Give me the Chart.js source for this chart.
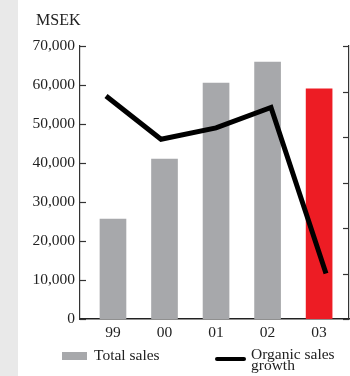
<!DOCTYPE html>
<html>
<head>
<meta charset="utf-8">
<title>Total sales and organic sales growth</title>
<script src="https://cdn.jsdelivr.net/npm/chart.js@4/dist/chart.umd.min.js"></script>
<style>
  html, body { margin: 0; padding: 0; }
  body { width: 350px; height: 376px; position: relative; background: #fff; overflow: hidden;
         font-family: "Liberation Serif", "Times New Roman", serif; color: #222; }
  .strip { position: absolute; left: 0; top: 0; width: 18px; height: 376px; background: #e9e9e9; }
  .plot { position: absolute; left: 18px; top: 0; width: 332px; height: 376px; }
  .unit { position: absolute; left: 36px; top: 14px; font-size: 16px; line-height: 11px; }
  .legend span { position: absolute; font-size: 15.5px; line-height: 11px; white-space: nowrap; }
  .swatch-bar { position: absolute; left: 62px; top: 352px; width: 25px; height: 8px; background: #a7a8ab; }
  .swatch-line { position: absolute; left: 215px; top: 357px; width: 31px; height: 4px; border-radius: 2px; background: #000; }
</style>
</head>
<body>
<div class="strip"></div>
<div class="plot"><canvas id="chart"></canvas></div>
<div class="unit">MSEK</div>
<div class="legend">
  <div class="swatch-bar"></div>
  <span style="left:94px; top:349px;">Total sales</span>
  <div class="swatch-line"></div>
  <span style="left:251px; top:348px;">Organic sales<br>growth</span>
</div>
<script>
// sales per year, MSEK, and organic growth in percent
const years = ["99", "00", "01", "02", "03"];
const totalSales = [25600, 41000, 60500, 65900, 59000];
const organicGrowth = [9.8, 7.9, 8.4, 9.3, 2.0];
const salesTicks = [0, 10000, 20000, 30000, 40000, 50000, 60000, 70000];

const GREY = "#a7a8ab";
const RED = "#ed1c24";
const INK = "#222";
const tickFont = { family: "'Liberation Serif', 'Times New Roman', serif", size: 15.5 };

// short tick marks pointing into the plot on both value axes
const inwardTicks = {
  id: "inwardTicks",
  afterDraw(chart) {
    const { ctx, chartArea, scales } = chart;
    ctx.save();
    ctx.strokeStyle = "#333";
    ctx.lineWidth = 1.2;
    scales.y.ticks.forEach((t) => {
      const py = Math.round(scales.y.getPixelForValue(t.value)) + 0.5;
      ctx.beginPath();
      ctx.moveTo(chartArea.left, py);
      ctx.lineTo(chartArea.left + 6, py);
      ctx.stroke();
    });
    scales.y2.ticks.forEach((t) => {
      const py = Math.round(scales.y2.getPixelForValue(t.value)) + 0.5;
      ctx.beginPath();
      ctx.moveTo(chartArea.right - 6, py);
      ctx.lineTo(chartArea.right, py);
      ctx.stroke();
    });
    ctx.restore();
  },
};

new Chart(document.getElementById("chart"), {
  type: "bar",
  data: {
    datasets: [
      {
        type: "line",
        label: "Organic sales growth",
        data: organicGrowth.map((v, i) => ({ x: i, y: v })),
        xAxisID: "x2",
        yAxisID: "y2",
        borderColor: "#000",
        borderWidth: 5,
        borderJoinStyle: "miter",
        borderCapStyle: "butt",
        pointRadius: 0,
        tension: 0,
        order: 0,
      },
      {
        label: "Total sales",
        data: totalSales.map((v, i) => ({ x: i, y: v })),
        xAxisID: "x",
        yAxisID: "y",
        backgroundColor: (c) => (c.dataIndex === years.length - 1 ? RED : GREY),
        grouped: false,
        barThickness: 26,
        maxBarThickness: 26,
        order: 1,
      },
    ],
  },
  options: {
    responsive: true,
    maintainAspectRatio: false,
    animation: false,
    layout: { padding: { left: 0, right: 1, top: 46, bottom: 0 } },
    plugins: {
      legend: { display: false },
      tooltip: { enabled: false },
    },
    scales: {
      x: {
        type: "linear",
        min: -0.64,
        max: 4.58,
        offset: false,
        afterBuildTicks: (s) => { s.ticks = years.map((_, i) => ({ value: i })); },
        afterFit: (s) => { s.height = 57; },
        ticks: { callback: (v) => years[v], color: INK, font: tickFont, padding: 5, autoSkip: false, maxRotation: 0 },
        grid: { display: false, drawTicks: false },
        border: { color: "#222", width: 1.5 },
      },
      x2: { type: "linear", display: false, min: -0.473, max: 4.418, offset: false },
      y: {
        position: "left",
        min: 0,
        max: 70000,
        afterBuildTicks: (s) => { s.ticks = salesTicks.map((v) => ({ value: v })); },
        afterFit: (s) => { s.width = 62; },
        ticks: { callback: (v) => v.toLocaleString("en-US"), color: INK, font: tickFont, padding: 5 },
        grid: { display: false, drawTicks: false },
        border: { color: "#333", width: 1.2 },
      },
      y2: {
        position: "right",
        min: 0,
        max: 12,
        ticks: { display: false, stepSize: 2 },
        afterFit: (s) => { s.width = 0; },
        grid: { display: false, drawTicks: false },
        border: { color: "#333", width: 1.2 },
      },
    },
  },
  plugins: [inwardTicks],
});
</script>
</body>
</html>
